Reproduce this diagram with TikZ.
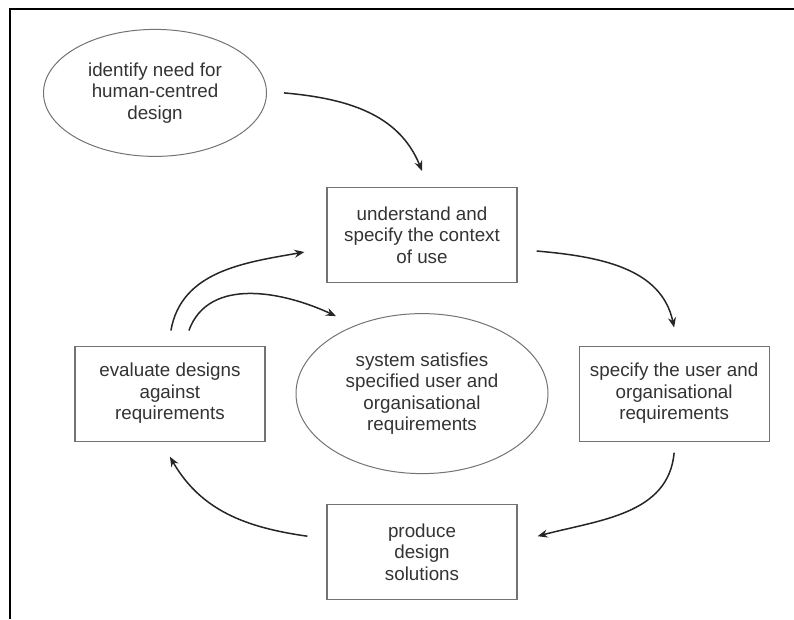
\documentclass[tikz,border=0pt]{standalone}
\usepackage{fontspec}
\setmainfont{Liberation Sans}
\usepackage{tikz}
\usetikzlibrary{positioning,shapes,arrows.meta,calc}

\tikzset{
  activity/.style={draw=black!55, line width=1.2pt, rectangle, minimum width=190pt, minimum height=95pt, align=center, text=black!80, font=\fontsize{18.8}{21.5}\selectfont},
  goal/.style={draw=black!55, line width=1pt, ellipse, inner sep=0pt, align=center, text=black!80, font=\fontsize{18.8}{21.5}\selectfont},
  flow/.style={->, line width=1.5pt, draw=black!85},
}

\begin{document}
\begin{tikzpicture}[x=1pt, y=1pt, node distance=30pt, >={Stealth[length=10pt,width=8pt]}]
            \useasboundingbox (0,0) rectangle (794,-619);
            \draw[line width=1.1pt](10,-619)--(10,-9)--(794,-9);

            \node[activity](context) at (422,-235){understand and\\specify the context\\of use};
            \node[goal, minimum width=252pt, minimum height=160pt, below=of context](satisfied){system satisfies\\specified user and\\organisational\\requirements};
            \node[activity, left=of satisfied](evaluate){evaluate designs\\against\\requirements};
            \node[activity, right=of satisfied](userreq){specify the user and\\organisational\\requirements};
            \node[activity, below=of satisfied](produce){produce\\design\\solutions};
            \node[goal, minimum width=223pt, minimum height=127pt, above=of context, xshift=-267pt](need){identify need for\\human-centred\\design};

            \draw[flow]([xshift=17pt]need.east) to[out=-5, in=112] ([yshift=16pt]context.north);
            \draw[flow]([shift={(19pt,-16pt)}]context.east) to[out=-5, in=102] ([yshift=18pt]userreq.north);
            \draw[flow]([yshift=-11pt]userreq.south) to[out=-95, in=15] ([shift={(20pt,16pt)}]produce.east);
            \draw[flow]([shift={(-19pt,16pt)}]produce.west) to[out=172, in=-60] ([yshift=-15pt]evaluate.south);
            \draw[flow]([shift={(1pt,15pt)}]evaluate.north) to[out=80, in=190] ([shift={(-22pt,-17pt)}]context.west);
            \draw[flow]([shift={(19pt,15pt)}]evaluate.north) to[out=70, in=155] ([shift={(-86pt,-3pt)}]satisfied.north);
        \end{tikzpicture}
\end{document}
